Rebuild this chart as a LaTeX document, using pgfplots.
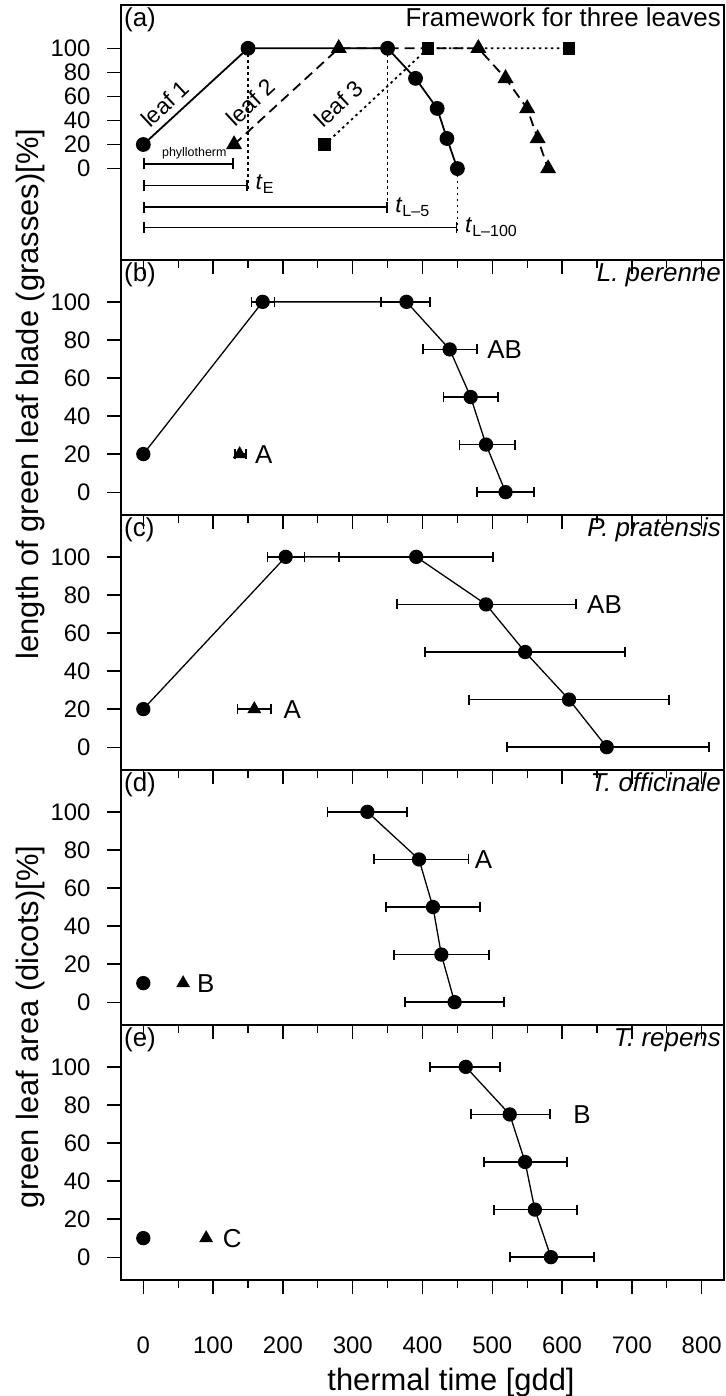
\documentclass[border=0pt]{standalone}
\usepackage{fontspec}
\setmainfont{Liberation Sans}
\usepackage{pgfplots}
\pgfplotsset{compat=1.18}
\usetikzlibrary{arrows.meta}

\newcommand\tickfont{\fontsize{24}{24}\selectfont}
\newcommand\panelfont{\fontsize{26}{26}\selectfont}
\newcommand\leaffont{\fontsize{23}{23}\selectfont}
\newcommand\smallfont{\fontsize{12.5}{12.5}\selectfont}
\newcommand\titlefont{\fontsize{31}{31}\selectfont}

\tikzset{
  tag/.style={anchor=north west, font=\panelfont, inner sep=3bp},
  spec/.style={anchor=north east, font=\panelfont, inner sep=3bp},
}

\pgfplotsset{
  panel/.style={
    scale only axis, width=603bp, height=255bp,
    anchor=south west,
    xmin=-32, xmax=832, ymin=-12, ymax=122,
    xtick={0,100,...,800}, minor xtick={50,150,...,750},
    ytick={0,20,...,100},
    xtick pos=bottom, ytick pos=left,
    tick align=outside,
    major tick length=14bp, minor tick length=8bp,
    every tick/.style={black, line width=1.3bp},
    axis line style={line width=1.6bp},
    xticklabels={},
    yticklabel style={font=\tickfont, xshift=-13bp},
    /pgf/number format/assume math mode=true,
    clip=false,
  },
  dat/.style={black, line width=1.3bp, mark=*, mark size=6.5bp, mark options={solid}},
  tri/.style={black, only marks, mark=triangle*, mark size=7.5bp},
  eb/.style={error bars/.cd, x dir=both, x explicit,
    error bar style={line width=1.8bp, black},
    error mark options={line width=1.8bp, mark size=5bp, black, rotate=90}},
  bar/.style={black, line width=1.8bp, {Bar[width=11bp]}-{Bar[width=11bp]}},
  vdot/.style={black, line width=1.5bp, dash pattern=on 2.5bp off 3.5bp},
}

\begin{document}
\begin{tikzpicture}
\useasboundingbox (0,0) rectangle (726bp,1396bp);

% (a) framework
\begin{axis}[panel, at={(121bp,1136bp)}, ymin=-76, ymax=136]
\addplot[dat, line width=1.8bp] coordinates {(0,20)(150,100)(350,100)(390,75)(421,50)(435,25)(450,0)};
\addplot[black, line width=1.8bp, dash pattern=on 10bp off 6bp, mark=triangle*, mark size=7.5bp, mark options={solid}]
  coordinates {(130,20)(280,100)(480,100)(519,75)(550,50)(565,25)(580,0)};
\addplot[black, line width=1.8bp, dash pattern=on 2.5bp off 3.5bp, mark=square*, mark size=5.5bp, mark options={solid}]
  coordinates {(260,20)(408,100)(610,100)};
\addplot[vdot] coordinates {(150,100)(150,-19)};
\addplot[vdot] coordinates {(350,100)(350,-36)};
\addplot[vdot] coordinates {(450,0)(450,-53)};
\addplot[bar] coordinates {(0,4)(130,4)};
\addplot[bar] coordinates {(0,-14)(150,-14)};
\addplot[bar] coordinates {(0,-32)(350,-32)};
\addplot[bar] coordinates {(0,-49)(450,-49)};
\node[rotate=43, font=\leaffont] at (axis cs:31,54) {leaf 1};
\node[rotate=43, font=\leaffont] at (axis cs:154,55) {leaf 2};
\node[rotate=43, font=\leaffont] at (axis cs:280,54) {leaf 3};
\node[font=\smallfont] at (axis cs:73,13) {phyllotherm};
\node[anchor=west, font=\leaffont] at (axis cs:156,-13) {\textit{t}\textsubscript{E}};
\node[anchor=west, font=\leaffont] at (axis cs:356,-32) {\textit{t}\textsubscript{L–5}};
\node[anchor=west, font=\leaffont] at (axis cs:456,-49) {\textit{t}\textsubscript{L–100}};
\node[tag] at (rel axis cs:0,1) {(a)};
\node[spec] at (rel axis cs:1,1) {Framework for three leaves};
\end{axis}

% (b) L. perenne
\begin{axis}[panel, at={(121bp,881bp)}]
\addplot[dat, eb] coordinates {(0,20) +- (0,0) (171,100) += (17,0) -= (16,0) (377,100) += (34,0) -= (36,0)
  (439,75) += (39,0) -= (38,0) (469,50) += (39,0) -= (39,0) (491,25) += (42,0) -= (38,0) (519,0) += (41,0) -= (41,0)};
\addplot[tri, eb] coordinates {(138,20) += (9,0) -= (7,0)};
\node[anchor=west, font=\panelfont] at (axis cs:155,20) {A};
\node[anchor=west, font=\panelfont] at (axis cs:488,75) {AB};
\node[tag] at (rel axis cs:0,1) {(b)};
\node[spec] at (rel axis cs:1,1) {\textit{L. perenne}};
\end{axis}

% (c) P. pratensis
\begin{axis}[panel, at={(121bp,626bp)}]
\addplot[dat, eb] coordinates {(0,20) +- (0,0) (204,100) += (27,0) -= (26,0) (391,100) += (110,0) -= (111,0)
  (491,75) += (129,0) -= (127,0) (547,50) += (143,0) -= (143,0) (610,25) += (143,0) -= (143,0) (664,0) += (146,0) -= (143,0)};
\addplot[tri, eb] coordinates {(159,20) +- (24,0)};
\node[anchor=west, font=\panelfont] at (axis cs:196,20) {A};
\node[anchor=west, font=\panelfont] at (axis cs:631,75) {AB};
\node[tag] at (rel axis cs:0,1) {(c)};
\node[spec] at (rel axis cs:1,1) {\textit{P. pratensis}};
\end{axis}

% (d) T. officinale
\begin{axis}[panel, at={(121bp,371bp)}]
\addplot[dat, only marks] coordinates {(0,10)};
\addplot[tri] coordinates {(57,10)};
\addplot[dat, eb] coordinates {(321,100) +- (57,0) (395,75) += (71,0) -= (65,0) (415,50) +- (67,0)
  (427,25) +- (68,0) (446,0) +- (71,0)};
\node[anchor=west, font=\panelfont] at (axis cs:72,10) {B};
\node[anchor=west, font=\panelfont] at (axis cs:470,75) {A};
\node[tag] at (rel axis cs:0,1) {(d)};
\node[spec] at (rel axis cs:1,1) {\textit{T. officinale}};
\end{axis}

% (e) T. repens
\begin{axis}[panel, at={(121bp,116bp)},
  xticklabels={0,100,200,300,400,500,600,700,800},
  xticklabel style={font=\tickfont, yshift=-39bp}]
\addplot[dat, only marks] coordinates {(0,10)};
\addplot[tri] coordinates {(90,10)};
\addplot[dat, eb] coordinates {(462,100) += (49,0) -= (51,0) (525,75) += (58,0) -= (55,0) (547,50) += (60,0) -= (59,0)
  (561,25) += (60,0) -= (58,0) (584,0) += (62,0) -= (59,0)};
\node[anchor=west, font=\panelfont] at (axis cs:109,10) {C};
\node[anchor=west, font=\panelfont] at (axis cs:611,75) {B};
\node[tag] at (rel axis cs:0,1) {(e)};
\node[spec] at (rel axis cs:1,1) {\textit{T. repens}};
\end{axis}

\node[font=\titlefont] at (451bp,13bp) {thermal time [gdd]};
\node[rotate=90, anchor=base, font=\titlefont] at (38bp,1002bp) {length of green leaf blade (grasses)[\%]};
\node[rotate=90, anchor=base, font=\titlefont] at (38bp,369bp) {green leaf area (dicots)[\%]};
\end{tikzpicture}
\end{document}
